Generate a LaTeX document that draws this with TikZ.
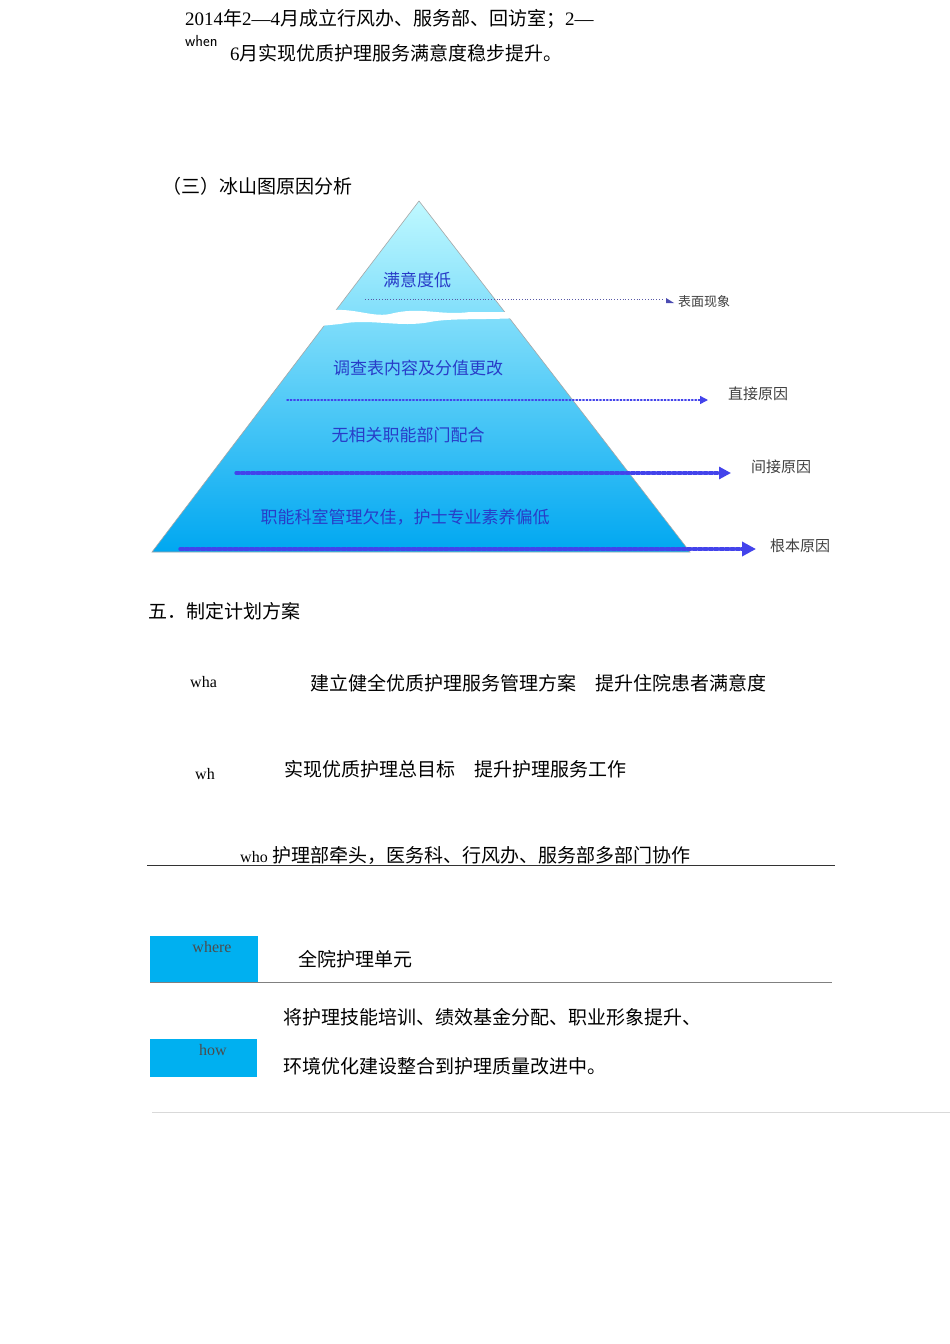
\documentclass[tikz,border=0pt]{standalone}
\usepackage{fontspec}
\setmainfont{Liberation Serif}
\newfontfamily\cjk{Noto Sans CJK SC}
\usetikzlibrary{arrows.meta}
\definecolor{pyrblue}{RGB}{40,60,200}
\definecolor{cyanbox}{RGB}{0,176,240}
\definecolor{dotblue}{RGB}{20,20,230}
\tikzset{
  x=1pt,y=-1pt,
  body/.style={anchor=west,inner sep=0pt,font=\cjk\fontsize{19}{19}\selectfont},
  pyr/.style={anchor=center,inner sep=0pt,text=pyrblue,font=\cjk\fontsize{17}{17}\selectfont},
  side/.style={anchor=west,inner sep=0pt,text=black!75,font=\cjk\fontsize{15}{15}\selectfont},
  lab/.style={anchor=west,inner sep=0pt,font=\fontsize{16}{16}\selectfont},
  dotline/.style={dotted,line width=#1,dotblue!80,line cap=round},
}
\begin{document}
\begin{tikzpicture}
\useasboundingbox[fill=white] (0,0) rectangle (950,1344);
% header
\node[body] (h1) at (185,19) {{\rmfamily 2014}年{\rmfamily 2—4}月成立行风办、服务部、回访室；{\rmfamily 2—}};
\node[anchor=west,inner sep=0pt,font=\sffamily\fontsize{16}{16}\selectfont] (h2) at (185,41) {when};
\node[body] (h3) at (230,53) {{\rmfamily 6}月实现优质护理服务满意度稳步提升。};
\node[body] (t3) at (162,186) {（三）冰山图原因分析};
% pyramid
\shade[top color=blue!10!cyan!25,bottom color=cyanbox!95!blue] (419,201) -- (690,552) -- (152,552) -- cycle;
\draw[black!35,line width=0.6pt] (419,201) -- (690,552) -- (152,552) -- cycle;
\fill[white] (320,312) .. controls (350,305) and (370,318) .. (390,314) .. controls (420,306) and (440,316) .. (470,312) -- (520,312) -- (520,318) .. controls (480,320) and (450,318) .. (430,322) .. controls (400,328) and (370,318) .. (340,324) -- (320,326) -- cycle;
\node[pyr] (p1) at (417,280) {满意度低};
\node[pyr] (p2) at (418,368) {调查表内容及分值更改};
\node[pyr] (p3) at (408,435) {无相关职能部门配合};
\node[pyr] (p4) at (405,517) {职能科室管理欠佳，护士专业素养偏低};
\coordinate (a0) at (365,299);
\coordinate (b0) at (662,299);
\draw[dotted,gray!70!blue,line width=0.8pt] (a0) -- (b0);
\fill[gray!60!blue] (666,303) -- (674,303) -- (666,298) -- cycle;
\node[side,font=\cjk\fontsize{13}{13}\selectfont] (s0) at (678,302) {表面现象};
\coordinate (a1) at (287,400);
\coordinate (b1) at (708,400);
\draw[dotline=1.4pt,-{Triangle[length=8pt,width=8pt]}] (a1) -- (b1);
\node[side] (s1) at (728,394) {直接原因};
\coordinate (a2) at (236,473);
\coordinate (b2) at (731,473);
\draw[dotline=3.2pt,-{Triangle[length=12pt,width=12pt]}] (a2) -- (b2);
\node[side] (s2) at (751,467) {间接原因};
\coordinate (a3) at (180,549);
\coordinate (b3) at (756,549);
\draw[dotline=3.4pt,-{Triangle[length=14pt,width=14pt]}] (a3) -- (b3);
\node[side] (s3) at (770,546) {根本原因};
% plan
\node[body] (t5) at (148,611) {五．制定计划方案};
\node[lab] (w1) at (190,682) {wha};
\node[body] (w1t) at (310,683) {建立健全优质护理服务管理方案\quad 提升住院患者满意度};
\node[lab] (w2) at (195,774) {wh};
\node[body] (w2t) at (284,769) {实现优质护理总目标\quad 提升护理服务工作};
\node[body] (w3) at (240,855) {{\rmfamily\fontsize{16}{16}\selectfont who} 护理部牵头，医务科、行风办、服务部多部门协作};
\coordinate (l1a) at (147,865); \coordinate (l1b) at (835,865);
\draw[black!80,line width=0.8pt] (l1a) -- (l1b);
\node[fill=cyanbox,minimum width=108pt,minimum height=46pt,inner sep=0pt] (where) at (204,959) {};
\node[lab,anchor=north,text=black!70] (wt) at (212,941) {where};
\node[body] (wr) at (298,959) {全院护理单元};
\coordinate (l2a) at (150,982); \coordinate (l2b) at (832,982);
\draw[black!50,line width=0.8pt] (l2a) -- (l2b);
\node[body] (how1) at (283,1017) {将护理技能培训、绩效基金分配、职业形象提升、};
\node[fill=cyanbox,minimum width=107pt,minimum height=38pt,inner sep=0pt] (how) at (203.5,1058) {};
\node[lab,anchor=north,text=black!70] (ht) at (213,1044) {how};
\node[body] (how2) at (283,1066) {环境优化建设整合到护理质量改进中。};
\coordinate (l3a) at (152,1112); \coordinate (l3b) at (950,1112);
\draw[black!15,line width=1pt] (l3a) -- (l3b);
\end{tikzpicture}
\end{document}
